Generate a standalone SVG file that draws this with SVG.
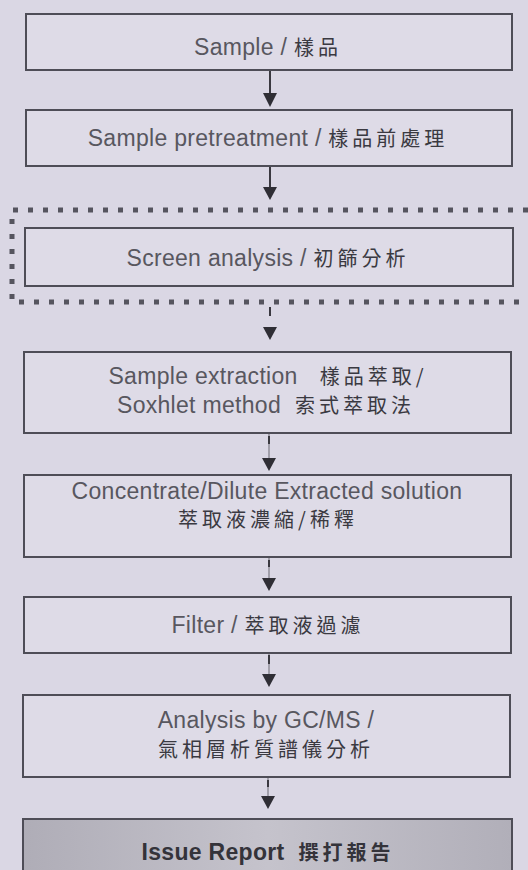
<svg xmlns="http://www.w3.org/2000/svg" width="528" height="870" viewBox="0 0 528 870">
<style>
.box{fill:#dedbe7;stroke:#4e4d57;stroke-width:2}
.t{font-family:"Liberation Sans","Noto Sans CJK TC",sans-serif;font-size:23px;letter-spacing:0.3px;fill:#58575f;text-anchor:middle}
.zh{font-family:"Noto Sans CJK TC","Noto Sans CJK SC",serif;font-size:20px;letter-spacing:4px;fill:#3a3941}
.b{font-weight:bold;fill:#34333a}
.ln{stroke:#3a3940;stroke-width:2;fill:none}
.fl{stroke:#8f8e98;stroke-width:1.5;fill:none}
.hd{fill:#2f2e35}
</style>
<defs>
<linearGradient id="g8" x1="0" y1="0" x2="1" y2="0">
<stop offset="0" stop-color="#afadb7"/>
<stop offset="0.5" stop-color="#c5c3cc"/>
<stop offset="1" stop-color="#b1afb9"/>
</linearGradient>
</defs>
<rect width="528" height="870" fill="#dad7e4"/>
<g id="connectors">
<line class="ln" x1="270" y1="70" x2="270" y2="94"/>
<polygon class="hd" points="263,93 277,93 270,107"/>
<line class="ln" x1="270" y1="166" x2="270" y2="188"/>
<polygon class="hd" points="263,187 277,187 270,200"/>
<line class="ln" x1="270" y1="307" x2="270" y2="316"/>
<polygon class="hd" points="263,327 277,327 270,340"/>
<line class="fl" x1="269" y1="433" x2="269" y2="458"/>
<line class="ln" x1="269" y1="436" x2="269" y2="444"/>
<polygon class="hd" points="262,458 276,458 269,471"/>
<line class="fl" x1="269" y1="557" x2="269" y2="578"/>
<line class="ln" x1="269" y1="560" x2="269" y2="567"/>
<polygon class="hd" points="262,578 276,578 269,591"/>
<line class="fl" x1="269" y1="653" x2="269" y2="674"/>
<line class="ln" x1="269" y1="655" x2="269" y2="664"/>
<polygon class="hd" points="262,674 276,674 269,687"/>
<line class="fl" x1="268" y1="777" x2="268" y2="796"/>
<line class="ln" x1="268" y1="780" x2="268" y2="787"/>
<polygon class="hd" points="261,796 275,796 268,809"/>
</g>
<g id="screen-frame">
<path d="M528,210 H12 V302 H528" fill="none" stroke="#55545e" stroke-width="5" stroke-dasharray="5 10"/>
</g>
<g id="sample">
<rect class="box" x="26" y="14" width="486" height="56"/>
<text class="t" x="268" y="55">Sample / <tspan class="zh">樣品</tspan></text>
</g>
<g id="pretreatment">
<rect class="box" x="26" y="110" width="486" height="56"/>
<text class="t" x="268" y="146">Sample pretreatment / <tspan class="zh">樣品前處理</tspan></text>
</g>
<g id="screen">
<rect class="box" x="25" y="228" width="488" height="58"/>
<text class="t" x="268" y="266">Screen analysis / <tspan class="zh">初篩分析</tspan></text>
</g>
<g id="extraction">
<rect class="box" x="24" y="352" width="487" height="81"/>
<text class="t" x="268" y="384">Sample extraction<tspan class="zh" dx="22">樣品萃取/</tspan></text>
<text class="t" x="266" y="413">Soxhlet method<tspan class="zh" dx="14">索式萃取法</tspan></text>
</g>
<g id="concentrate">
<rect class="box" x="24" y="475" width="487" height="82"/>
<text class="t" x="267" y="499">Concentrate/Dilute Extracted solution</text>
<text class="t zh" x="268" y="527">萃取液濃縮/稀釋</text>
</g>
<g id="filter">
<rect class="box" x="24" y="597" width="487" height="56"/>
<text class="t" x="268" y="633">Filter / <tspan class="zh">萃取液過濾</tspan></text>
</g>
<g id="gcms">
<rect class="box" x="23" y="695" width="487" height="82"/>
<text class="t" x="266" y="728">Analysis by GC/MS /</text>
<text class="t zh" x="266" y="757">氣相層析質譜儀分析</text>
</g>
<g id="report">
<rect x="23" y="819" width="489" height="60" fill="url(#g8)" stroke="#4e4d57" stroke-width="2"/>
<text class="t b" x="268" y="860">Issue Report<tspan class="zh b" dx="14">撰打報告</tspan></text>
</g>
</svg>
